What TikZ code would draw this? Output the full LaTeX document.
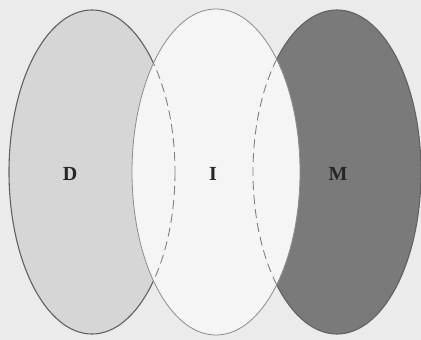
\documentclass[tikz,border=0pt]{standalone}
\usepackage{fontspec}
\setmainfont{Liberation Serif}
\begin{document}
\begin{tikzpicture}[x=1pt,y=-1pt,
  outline/.style={draw=black!62,line width=1.1pt},
  dashline/.style={draw=black!50,line width=0.9pt,dash pattern=on 9pt off 5pt},
  lbl/.style={font=\bfseries\fontsize{20}{20}\selectfont,text=black!85}]
\fill[black!8] (0,0) rectangle (421,340);
\useasboundingbox (0,0) rectangle (421,340);
% D
\path[outline,fill=black!16] (92,172) ellipse [x radius=83,y radius=162];
% M
\path[outline,fill=black!52] (337,172) ellipse [x radius=84,y radius=162];
% I on top
\path[outline,draw=black!45,line width=0.8pt,fill=black!4] (216,172) ellipse [x radius=84,y radius=163];
% hidden edges inside I
\begin{scope}
  \clip (216,172) ellipse [x radius=84,y radius=163];
  \path[dashline] (92,172) ellipse [x radius=83,y radius=162];
  \path[dashline] (337,172) ellipse [x radius=84,y radius=162];
\end{scope}
\node[lbl] (D) at (70,174) {D};
\node[lbl] (I) at (213,174) {I};
\node[lbl] (M) at (338,174) {M};
\end{tikzpicture}
\end{document}
